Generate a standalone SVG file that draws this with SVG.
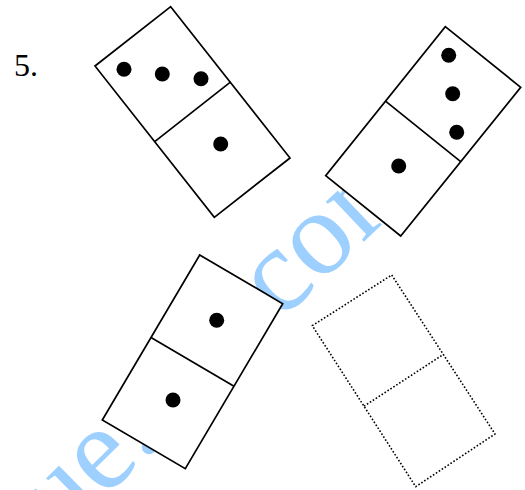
<svg xmlns="http://www.w3.org/2000/svg" width="525" height="490" viewBox="0 0 525 490">
<style>
.tile{fill:#fff;stroke:#000;stroke-width:1.7;stroke-linejoin:miter}
.div{fill:none;stroke:#000;stroke-width:1.7}
.dotted{fill:#fff;stroke:#000;stroke-width:1.6;stroke-dasharray:1.6 1.9;stroke-linejoin:round}
.ddiv{fill:none;stroke:#000;stroke-width:1.6;stroke-dasharray:1.6 1.9}
.pip{fill:#000}
.wm{font-family:"Liberation Serif","Times New Roman",serif;font-size:120px;fill:#9dcfff}
.num{font-family:"Liberation Serif","Times New Roman",serif;font-size:32px;fill:#000}
</style>
<rect width="525" height="490" fill="#fff"/>
<g id="watermark">
<text class="wm" transform="translate(61.3,540.8) rotate(-44.5)">ue.</text>
<text class="wm" transform="translate(280,321.7) rotate(-43.6)">com</text>
</g>
<text class="num" x="14" y="76">5.</text>
<g id="domino1">
<polygon class="tile" points="170.7,6.7 290,158 214.3,217.3 95,66"/>
<line class="div" x1="154.7" y1="141.7" x2="230.4" y2="82.2"/>
<circle class="pip" cx="124" cy="69.3" r="7.5"/>
<circle class="pip" cx="162.3" cy="74" r="7.5"/>
<circle class="pip" cx="201" cy="78.7" r="7.5"/>
<circle class="pip" cx="220.7" cy="144" r="7.5"/>
</g>
<g id="domino2">
<polygon class="tile" points="445.3,26.7 520.7,87.3 400.7,236 325.7,175.7"/>
<line class="div" x1="385.5" y1="101.2" x2="460.7" y2="161.7"/>
<circle class="pip" cx="448.7" cy="55.3" r="7.5"/>
<circle class="pip" cx="452.7" cy="93.7" r="7.5"/>
<circle class="pip" cx="456.7" cy="132.3" r="7.5"/>
<circle class="pip" cx="398.7" cy="166" r="7.5"/>
</g>
<g id="domino3">
<polygon class="tile" points="199.7,255 282.7,303.7 185.3,468.7 102.3,420"/>
<line class="div" x1="151" y1="337.5" x2="234" y2="386.2"/>
<circle class="pip" cx="216.7" cy="320.3" r="7.5"/>
<circle class="pip" cx="173" cy="400" r="7.5"/>
</g>
<g id="domino4">
<polygon class="dotted" points="391.7,275 495,434 415.7,486.7 312.3,325.7"/>
<line class="ddiv" x1="364" y1="406.2" x2="443.3" y2="354.5"/>
</g>
</svg>
